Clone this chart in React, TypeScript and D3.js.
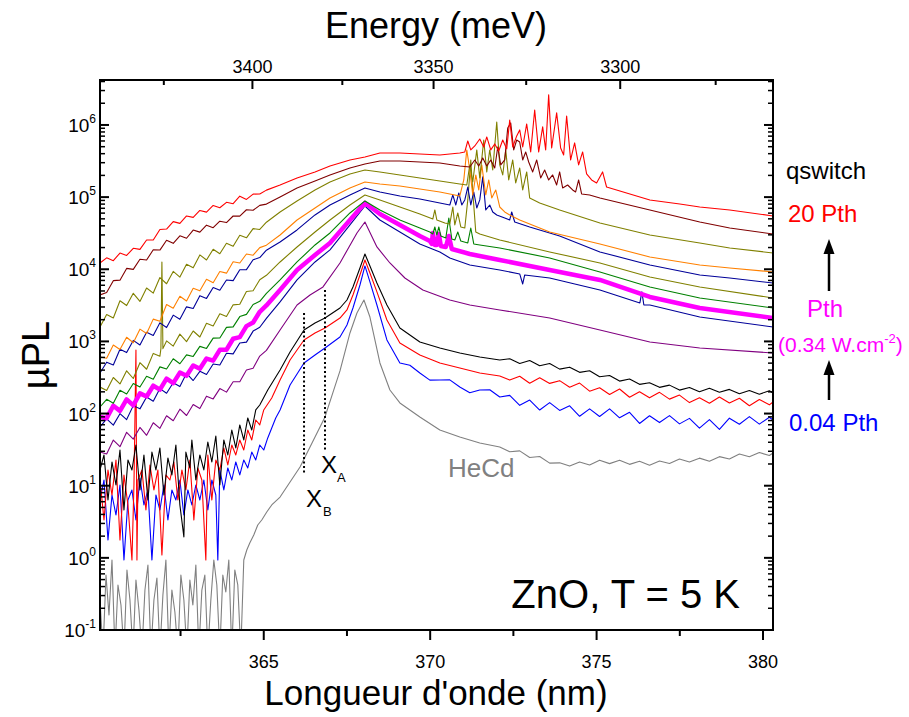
import React from 'react';
import * as d3 from 'd3';

type Pt = [number, number];

// Each point: [wavelength (nm), log10(µPL)]
const hecd: Pt[] = [
  [360.08,-0.584],[360.17,-1.3],[360.26,-0.238],[360.35,-0.792],[360.44,-0.03],[360.53,-1.3],[360.62,-0.376],[360.71,-0.654],[360.8,-1.3],[360.89,-0.168],[360.98,-0.584],[361.07,-1.3],[361.16,-0.307],[361.25,-0.723],[361.34,-1.3],[361.43,-0.446],[361.52,-0.099],[361.61,-1.3],[361.7,-0.584],[361.79,-0.279],[361.88,-1.3],[361.97,-0.515],[362.06,-0.03],[362.15,-1.3],[362.24,-0.446],[362.33,-0.751],[362.42,-1.3],[362.51,-0.238],[362.6,-0.584],[362.69,-1.3],[362.78,-0.307],[362.87,-0.654],[362.96,-0.099],[363.05,-1.3],[363.14,-0.446],[363.23,-0.238],[363.32,-1.3],[363.41,-0.584],[363.5,-0.03],[363.59,-0.376],[363.68,-1.3],[363.77,-0.238],[363.86,-0.473],[363.95,-0.03],[364.04,-1.3],[364.13,-0.168],[364.22,-0.376],[364.31,-1.3],[364.4,-0.03],[364.49,0.109],[364.58,0.206],[364.7,0.317],[364.82,0.455],[364.94,0.525],[365.09,0.636],[365.24,0.733],[365.49,0.843],[365.79,1.051],[366.09,1.259],[366.54,1.675],[366.84,1.953],[367.29,2.591],[367.59,3.117],[367.8,3.394],[368.01,3.574],[368.19,3.338],[368.49,2.701],[368.79,2.327],[369.09,2.147],[369.69,1.953],[370.29,1.772],[370.89,1.675],[371.49,1.592],
  [372.09,1.537],[372.39,1.47],[372.69,1.483],[372.99,1.391],[373.29,1.405],[373.59,1.313],[373.89,1.317],[374.19,1.272],[374.49,1.328],[374.79,1.288],[375.09,1.354],[375.39,1.306],[375.69,1.354],[375.99,1.296],[376.29,1.338],[376.59,1.285],[376.89,1.343],[377.19,1.307],[377.49,1.37],[377.79,1.328],[378.09,1.382],[378.39,1.34],[378.69,1.403],[378.99,1.371],[379.29,1.439],[379.59,1.402],[379.89,1.46],[380.19,1.418],[380.3,1.453]
];

const p004: Pt[] = [
  [360.08,0.802],[360.2,1.079],[360.32,0.248],[360.44,0.871],[360.56,0.594],[360.68,1.01],[360.8,-0.03],[360.92,0.802],[361.04,0.941],[361.16,0.525],[361.28,1.107],[361.4,0.733],[361.52,0.941],[361.64,-0.03],[361.76,0.871],[361.88,0.663],[362.0,1.01],[362.12,0.525],[362.24,0.941],[362.36,0.802],[362.48,1.079],[362.6,0.594],[362.72,0.941],[362.84,0.733],[362.96,1.01],[363.08,0.802],[363.2,1.079],[363.32,0.663],[363.44,1.079],[363.56,0.871],[363.62,-0.03],[363.68,1.218],[363.8,0.941],[363.92,1.246],[364.04,1.079],[364.16,1.329],[364.28,1.149],[364.4,1.357],[364.52,1.246],[364.64,1.467],[364.76,1.357],[364.88,1.564],[365.0,1.495],[365.12,1.662],[365.24,1.8],[365.36,1.939],[365.49,2.05],[365.79,2.396],[366.21,2.701],[366.54,2.812],[366.84,2.909],[367.29,3.061],[367.5,3.228],[367.68,3.463],[367.89,3.782],[368.04,4.046],[368.19,3.824],[368.4,3.505],[368.7,3.02],
  [369.09,2.701],[369.39,2.67],[369.69,2.562],[369.99,2.463],[370.29,2.465],[370.59,2.467],[370.89,2.368],[371.19,2.288],[371.49,2.327],[371.79,2.329],
  [372.09,2.23],[372.39,2.252],[372.69,2.114],[372.99,2.187],[373.29,2.049],[373.59,2.151],[373.89,2.044],[374.19,2.108],[374.49,1.962],[374.79,2.065],[375.09,1.959],[375.39,2.065],[375.69,1.941],[375.99,2.017],[376.29,1.863],[376.59,1.969],[376.89,1.875],[377.19,1.971],[377.49,1.857],[377.79,1.933],[378.09,1.799],[378.39,1.915],[378.69,1.78],[378.99,1.936],[379.29,1.852],[379.59,1.957],[379.89,1.853],[380.19,1.949],[380.3,1.911]
];

const redLow: Pt[] = [
  [360.08,1.079],[360.2,0.525],[360.32,1.218],[360.44,0.871],[360.56,1.357],[360.68,0.248],[360.8,1.149],[360.92,0.733],[361.04,-0.03],[361.1,1.01],[361.16,2.881],[361.19,-0.03],[361.22,1.079],[361.34,1.218],[361.46,0.663],[361.58,1.287],[361.7,0.941],[361.82,1.218],[361.94,0.04],[362.06,1.149],[362.18,1.079],[362.3,1.329],[362.42,0.802],[362.54,1.218],[362.66,0.941],[362.78,1.357],[362.9,0.525],[363.02,1.246],[363.14,1.079],[363.26,-0.03],[363.32,1.426],[363.44,0.802],[363.56,1.357],[363.68,1.218],[363.8,1.523],[363.92,1.287],[364.04,1.564],[364.16,1.426],[364.28,1.634],[364.4,1.495],[364.52,1.772],[364.64,1.634],[364.76,1.911],[364.88,1.842],[365.0,2.05],[365.24,2.216],[365.49,2.465],[365.79,2.743],[366.21,3.02],[366.54,3.117],[366.84,3.186],[367.29,3.324],[367.5,3.436],[367.68,3.644],[367.89,3.921],[368.04,4.129],[368.19,3.949],[368.4,3.686],[368.7,3.297],[369.09,2.978],[369.69,2.812],[370.29,2.701],[370.89,2.632],[371.49,2.562],
  [372.09,2.521],[372.39,2.464],[372.69,2.518],[372.99,2.421],[373.29,2.495],[373.59,2.418],[373.89,2.456],[374.19,2.364],[374.49,2.422],[374.79,2.31],[375.09,2.358],[375.39,2.264],[375.69,2.34],[375.99,2.226],[376.29,2.302],[376.59,2.218],[376.89,2.294],[377.19,2.2],[377.49,2.256],[377.79,2.152],[378.09,2.218],[378.39,2.144],[378.69,2.23],[378.99,2.147],[379.29,2.213],[379.59,2.109],[379.89,2.195],[380.19,2.121],[380.3,2.16]
];

const blackLow: Pt[] = [
  [360.08,1.218],[360.2,1.426],[360.32,0.802],[360.44,1.329],[360.56,1.01],[360.68,1.495],[360.8,0.663],[360.92,1.357],[361.04,1.218],[361.16,1.564],[361.28,0.941],[361.4,1.426],[361.52,0.802],[361.64,1.467],[361.76,1.218],[361.88,1.523],[362.0,0.871],[362.12,1.384],[362.24,1.149],[362.36,1.564],[362.48,0.733],[362.6,0.29],[362.66,1.467],[362.78,1.246],[362.84,1.634],[362.96,1.079],[363.08,1.426],[363.2,1.218],[363.32,1.606],[363.44,1.329],[363.56,1.689],[363.68,1.01],[363.8,1.634],[363.92,1.426],[364.04,1.772],[364.16,1.523],[364.28,1.842],[364.4,1.634],[364.52,1.939],[364.64,1.772],[364.76,2.05],[364.88,2.119],[365.12,2.327],[365.49,2.604],[365.79,2.853],[366.21,3.158],[366.54,3.255],[366.84,3.324],[367.29,3.463],[367.5,3.574],[367.68,3.755],[367.89,4.018],[368.04,4.212],[368.19,4.046],[368.4,3.81],[368.7,3.505],[369.09,3.186],[369.69,2.992],[370.29,2.909],[370.89,2.84],[371.49,2.784],
  [372.09,2.743],[372.39,2.759],[372.69,2.695],[372.99,2.736],[373.29,2.662],[373.59,2.693],[373.89,2.616],[374.19,2.643],[374.49,2.571],[374.79,2.593],[375.09,2.511],[375.39,2.528],[375.69,2.45],[375.99,2.478],[376.29,2.405],[376.59,2.427],[376.89,2.363],[377.19,2.394],[377.49,2.325],[377.79,2.361],[378.09,2.302],[378.39,2.351],[378.69,2.296],[378.99,2.335],[379.29,2.274],[379.59,2.319],[379.89,2.268],[380.19,2.317],[380.3,2.285]
];

const purple: Pt[] = [
  [360.08,1.467],[360.28,1.44],[360.48,1.633],[360.68,1.541],[360.88,1.74],[361.08,1.646],[361.28,1.808],[361.48,1.699],[361.68,1.872],[361.88,1.795],[362.08,1.969],[362.28,1.9],[362.48,2.061],[362.68,1.973],[362.88,2.126],[363.08,2.069],[363.28,2.241],[363.48,2.203],[363.68,2.346],[363.88,2.297],[364.08,2.44],[364.28,2.442],[364.48,2.603],[364.68,2.628],[364.88,2.797],[365.08,2.875],
  [365.49,3.158],[366.0,3.505],[366.39,3.644],[366.78,3.755],[367.29,4.087],[367.8,4.503],[368.04,4.655],[368.4,4.309],[368.79,4.087],[369.24,3.879],[369.78,3.713],[370.59,3.574],[371.19,3.505],[372.09,3.436],[373.59,3.324],[375.1,3.158],[376.6,2.992],[378.1,2.909],[380.3,2.84]
];

const navyLow: Pt[] = [
  [360.08,1.814],[360.28,1.927],[360.48,1.84],[360.68,1.998],[360.88,1.917],[361.08,2.11],[361.28,2.065],[361.48,2.23],[361.68,2.171],[361.88,2.346],[362.08,2.281],[362.28,2.428],[362.48,2.374],[362.68,2.558],[362.88,2.458],[363.08,2.585],[363.28,2.541],[363.48,2.686],[363.68,2.674],[363.88,2.835],[364.08,2.827],[364.28,2.979],[364.48,2.99],[364.68,3.143],[364.88,3.196],[365.08,3.319],
  [365.49,3.547],[366.0,3.852],[366.54,4.101],[366.99,4.268],[367.59,4.614],[368.04,4.877],[368.49,4.683],[369.09,4.517],[369.69,4.351],[370.29,4.24],[370.59,4.157],[371.19,4.06],[372.09,3.99],[372.69,3.935],[372.78,3.796],[372.84,3.921],[373.59,3.879],[375.1,3.713],[376.3,3.533],[376.36,3.686],[376.42,3.505],[376.6,3.505],[378.1,3.338],[380.3,3.2]
];

const pth: Pt[] = [
  [360.08,1.952],[360.28,1.936],[360.48,2.109],[360.68,2.037],[360.88,2.196],[361.08,2.113],[361.28,2.28],[361.48,2.236],[361.68,2.386],[361.88,2.331],[362.08,2.485],[362.28,2.422],[362.48,2.568],[362.68,2.523],[362.88,2.666],[363.08,2.62],[363.28,2.762],[363.48,2.734],[363.68,2.883],[363.88,2.884],[364.08,3.037],[364.28,3.059],[364.48,3.212],[364.68,3.262],[364.88,3.411],[365.08,3.499],
  [365.49,3.713],[366.0,3.99],[366.54,4.198],[366.99,4.365],[367.59,4.683],[368.04,4.919],[368.49,4.766],[369.09,4.614],[369.69,4.461],[369.99,4.392],[370.05,4.351],[370.08,4.503],[370.14,4.337],[370.2,4.337],[370.26,4.489],[370.32,4.323],[370.47,4.309],[370.56,4.461],[370.65,4.281],[371.19,4.212],[372.09,4.129],[373.59,3.99],[375.1,3.852],[376.6,3.616],[378.1,3.463],[380.3,3.324]
];

const green: Pt[] = [
  [360.08,2.091],[360.28,2.197],[360.48,2.142],[360.68,2.323],[360.88,2.272],[361.08,2.417],[361.28,2.367],[361.48,2.517],[361.68,2.477],[361.88,2.647],[362.08,2.617],[362.28,2.759],[362.48,2.69],[362.68,2.813],[362.88,2.792],[363.08,2.931],[363.28,2.903],[363.48,3.045],[363.68,3.048],[363.88,3.195],[364.08,3.202],[364.28,3.344],[364.48,3.375],[364.68,3.512],[364.88,3.555],[365.08,3.667],
  [365.49,3.852],[366.0,4.101],[366.54,4.337],[366.99,4.503],[367.59,4.78],[368.04,4.947],[368.49,4.822],[369.09,4.683],[369.69,4.572],[369.99,4.517],[370.08,4.489],[370.14,4.586],[370.2,4.475],[370.26,4.586],[370.32,4.461],[370.47,4.434],[370.56,4.711],[370.65,4.42],[370.74,4.406],[370.83,4.517],[370.92,4.392],[371.13,4.365],[371.22,4.572],[371.31,4.351],[371.49,4.337],[372.09,4.295],[373.59,4.157],[375.1,3.963],[376.6,3.755],[378.1,3.602],[380.3,3.463]
];

const oliveLow: Pt[] = [
  [360.08,2.368],[360.28,2.319],[360.48,2.5],[360.68,2.411],[360.88,2.592],[361.08,2.486],[361.28,2.705],[361.48,2.614],[361.68,2.834],[361.88,2.795],[361.91,2.9],[361.94,4.101],[361.97,2.9],[362.08,3.007],[362.28,2.935],[362.48,3.101],[362.68,2.997],[362.88,3.144],[363.08,3.061],[363.28,3.252],[363.48,3.214],[363.68,3.383],[363.88,3.345],[364.08,3.507],[364.28,3.515],[364.48,3.692],[364.68,3.702],[364.88,3.854],[365.08,3.916],
  [365.49,4.101],[366.0,4.309],[366.54,4.517],[366.99,4.683],[367.59,4.891],[368.04,5.03],[368.49,4.961],[369.09,4.863],[369.69,4.766],[370.08,4.697],[370.14,4.822],[370.2,4.683],[370.44,4.642],[370.59,4.628],[370.68,4.863],[370.74,4.614],[370.83,4.78],[370.92,4.586],[371.04,4.572],[371.13,4.961],[371.22,5.515],[371.28,5.071],[371.37,4.517],[371.49,4.489],[372.09,4.406],[373.59,4.24],[375.1,4.087],[376.6,3.893],[378.1,3.755],[380.3,3.602]
];

const navyHigh: Pt[] = [
  [360.08,2.562],[360.28,2.712],[360.48,2.673],[360.68,2.892],[360.88,2.845],[361.08,3.014],[361.28,2.95],[361.48,3.126],[361.68,3.082],[361.88,3.257],[362.08,3.192],[362.28,3.364],[362.48,3.306],[362.68,3.479],[362.88,3.457],[363.08,3.634],[363.28,3.596],[363.48,3.748],[363.68,3.709],[363.88,3.851],[364.08,3.843],[364.28,3.994],[364.48,3.995],[364.68,4.131],[364.88,4.162],[365.08,4.264],
  [365.49,4.378],[366.0,4.545],[366.54,4.753],[366.99,4.891],[367.59,5.03],[368.04,5.127],[368.49,5.071],[369.09,5.016],[369.69,4.974],[370.29,4.919],[370.59,4.891],[370.68,5.03],[370.77,4.891],[370.86,5.057],[370.95,4.891],[371.04,4.961],[371.13,5.14],[371.22,4.891],[371.31,5.071],[371.4,4.849],[371.49,4.961],[371.58,5.28],[371.67,4.822],[371.79,4.891],[371.88,4.794],[372.0,4.753],[372.24,4.711],[372.39,4.683],[372.45,4.794],[372.54,4.655],[372.99,4.586],[373.89,4.461],[375.1,4.24],[376.6,4.06],[378.1,3.921],[379.0,3.879],[380.3,3.81]
];

const orange: Pt[] = [
  [360.08,2.784],[360.28,2.767],[360.48,2.95],[360.68,2.888],[360.88,3.057],[361.08,2.981],[361.28,3.17],[361.48,3.109],[361.68,3.309],[361.88,3.28],[362.08,3.512],[362.28,3.459],[362.48,3.626],[362.68,3.56],[362.88,3.736],[363.08,3.701],[363.28,3.862],[363.48,3.814],[363.68,3.969],[363.88,3.946],[364.08,4.103],[364.28,4.087],[364.48,4.211],[364.68,4.195],[364.88,4.3],[365.08,4.334],
  [365.49,4.475],[366.0,4.683],[366.54,4.849],[366.99,4.988],[367.59,5.127],[368.04,5.21],[368.49,5.182],[369.09,5.155],[369.69,5.113],[370.29,5.071],[370.89,5.016],[371.01,5.238],[371.1,5.654],[371.19,5.376],[371.28,5.03],[371.37,5.307],[371.46,5.099],[371.55,5.446],[371.67,5.03],[371.76,5.238],[371.85,4.988],[371.97,5.099],[372.09,4.863],[372.24,4.794],[372.39,4.753],[372.69,4.683],[373.59,4.517],[375.1,4.351],[376.6,4.17],[378.1,4.06],[379.0,4.018],[380.3,3.963]
];

const oliveHigh: Pt[] = [
  [360.08,3.2],[360.28,3.372],[360.48,3.325],[360.68,3.563],[360.88,3.497],[361.08,3.667],[361.28,3.554],[361.48,3.74],[361.68,3.67],[361.88,3.885],[362.08,3.799],[362.28,3.97],[362.48,3.892],[362.68,4.07],[362.88,4.02],[363.08,4.199],[363.28,4.128],[363.48,4.278],[363.68,4.215],[363.88,4.361],[364.08,4.318],[364.28,4.472],[364.48,4.436],[364.68,4.563],[364.88,4.552],[365.08,4.652],
  [365.49,4.794],[366.0,4.947],[366.54,5.099],[366.99,5.21],[367.59,5.321],[368.04,5.376],[368.49,5.349],[369.09,5.307],[369.69,5.266],[370.29,5.224],[370.89,5.182],[371.1,5.168],[371.19,5.446],[371.28,5.21],[371.4,5.654],[371.49,5.266],[371.61,5.792],[371.7,5.349],[371.79,5.654],[371.88,5.376],[372.0,6.042],[372.09,5.446],[372.18,5.307],[372.27,5.654],[372.36,5.238],[372.48,5.515],[372.57,5.196],[372.69,5.404],[372.78,5.099],[372.9,5.349],[372.99,4.988],[373.29,4.919],[373.89,4.822],[375.1,4.642],[376.6,4.475],[378.1,4.365],[379.0,4.295],[380.3,4.226]
];

const darkRed: Pt[] = [
  [360.08,3.644],[360.28,3.678],[360.48,3.842],[360.68,3.849],[360.88,4.012],[361.08,3.998],[361.28,4.138],[361.48,4.128],[361.68,4.271],[361.88,4.266],[362.08,4.402],[362.28,4.359],[362.48,4.464],[362.68,4.43],[362.88,4.543],[363.08,4.515],[363.28,4.611],[363.48,4.576],[363.68,4.666],[363.88,4.647],[364.08,4.738],[364.28,4.737],[364.48,4.825],[364.68,4.818],[364.88,4.886],[365.08,4.903],
  [365.49,5.002],[366.0,5.127],[366.54,5.224],[366.99,5.307],[367.59,5.404],[368.04,5.46],[368.49,5.501],[369.09,5.501],[369.69,5.487],[370.29,5.473],[370.89,5.432],[371.19,5.418],[371.34,5.515],[371.46,5.432],[371.58,5.543],[371.7,5.432],[371.82,5.515],[371.94,5.404],[372.03,5.695],[372.12,5.446],[372.24,5.515],[372.33,5.959],[372.42,6.028],[372.51,5.654],[372.6,5.792],[372.69,5.764],[372.78,5.515],[372.87,5.626],[372.96,5.487],[373.08,5.349],[373.2,5.515],[373.32,5.266],[373.44,5.376],[373.56,5.238],[373.68,5.307],[373.8,5.168],[373.89,5.349],[373.98,5.127],[374.13,5.168],[374.28,5.099],[374.37,5.071],[374.46,5.238],[374.55,5.044],[374.79,5.03],[375.1,4.988],[376.6,4.822],[378.1,4.655],[379.0,4.572],[380.3,4.489]
];

const p20: Pt[] = [
  [360.08,4.087],[360.28,4.158],[360.48,4.119],[360.68,4.225],[360.88,4.191],[361.08,4.291],[361.28,4.276],[361.48,4.406],[361.68,4.406],[361.88,4.552],[362.08,4.557],[362.28,4.66],[362.48,4.636],[362.68,4.739],[362.88,4.719],[363.08,4.815],[363.28,4.792],[363.48,4.884],[363.68,4.852],[363.88,4.928],[364.08,4.909],[364.28,5.013],[364.48,4.968],[364.68,5.041],[364.88,5.044],[365.08,5.097],
  [365.49,5.168],[366.0,5.266],[366.54,5.349],[366.99,5.432],[367.59,5.515],[368.04,5.557],[368.49,5.612],[369.09,5.612],[369.69,5.598],[370.29,5.584],[370.89,5.612],[371.04,5.626],[371.13,5.778],[371.22,5.654],[371.34,5.709],[371.49,5.806],[371.61,5.695],[371.7,5.834],[371.82,5.654],[371.94,5.737],[372.06,5.64],[372.18,5.792],[372.3,5.667],[372.39,6.069],[372.48,5.695],[372.6,5.848],[372.69,5.931],[372.78,5.695],[372.9,6.014],[373.02,5.626],[373.14,6.208],[373.26,5.626],[373.38,5.973],[373.47,5.654],[373.56,6.417],[373.65,5.681],[373.8,6.167],[373.92,5.681],[374.01,5.584],[374.1,6.125],[374.22,5.515],[374.34,5.751],[374.46,5.446],[374.58,5.626],[374.7,5.321],[374.85,5.238],[375.0,5.196],[375.18,5.349],[375.3,5.14],[375.7,5.085],[376.6,4.961],[377.5,4.905],[378.1,4.863],[379.0,4.822],[380.3,4.739]
];

const seriesNames = ['HeCd', '0.04 Pth', 'red', 'black', 'purple', 'navyLow', 'Pth', 'green', 'oliveLow', 'navyHigh', 'orange', 'oliveHigh', 'darkRed', '20 Pth'];
const seriesData: Pt[][] = [hecd, p004, redLow, blackLow, purple, navyLow, pth, green, oliveLow, navyHigh, orange, oliveHigh, darkRed, p20];
const seriesColors = ['#808080', '#0000FF', '#FF0000', '#000000', '#800080', '#000099', '#FF00FF', '#008000', '#808000', '#000099', '#FF8000', '#808000', '#800000', '#FF0000'];
const seriesWidths = [1.1, 1.1, 1.1, 1.1, 1.1, 1.1, 4.5, 1.1, 1.1, 1.1, 1.1, 1.1, 1.1, 1.1];

const xTicksMajor = [365, 370, 375, 380];
const xTicksMinor = [362.5, 367.5, 372.5, 377.5];
const energyMajor = [3400, 3350, 3300];
const energyMinor = [3425, 3375, 3325, 3275];
const yDecades = [-1, 0, 1, 2, 3, 4, 5, 6];
const xaPos = 366.84;
const xbPos = 366.21;

const FONT = "'Liberation Sans', Arial, Helvetica, sans-serif";

export default function App() {
  const W = 909, H = 717;
  const L = 100, R = 773, T = 80, B = 630;
  const x = d3.scaleLinear().domain([360.08, 380.3]).range([L, R]);
  const y = d3.scaleLog().domain([0.1, 4.2e6]).range([B, T]);
  const line = d3.line<Pt>().x(d => x(d[0])).y(d => y(Math.pow(10, d[1])));
  const hc = 1239841.98;
  const ex = (e: number) => x(hc / e);

  const yMinor: number[] = [];
  yDecades.forEach(dec => {
    for (let k = 2; k <= 9; k++) {
      const v = k * Math.pow(10, dec);
      if (v <= 4.2e6) yMinor.push(v);
    }
  });

  return (
    <svg width={W} height={H} style={{ position: 'absolute', left: 0, top: 0, background: '#fff' }} fontFamily={FONT}>
      <defs>
        <clipPath id="plotclip">
          <rect x={L} y={T} width={R - L} height={B - T} />
        </clipPath>
      </defs>
      <rect x={0} y={0} width={W} height={H} fill="#fff" />
      <g clipPath="url(#plotclip)">
        {seriesData.map((d, i) => (
          <path key={seriesNames[i]} d={line(d) || ''} fill="none" stroke={seriesColors[i]} strokeWidth={seriesWidths[i]} strokeLinejoin="round" />
        ))}
        <line x1={x(xbPos)} x2={x(xbPos)} y1={y(Math.pow(10, 3.394))} y2={y(Math.pow(10, 1.176))} stroke="#000" strokeWidth={2} strokeDasharray="2,2.5" />
        <line x1={x(xaPos)} x2={x(xaPos)} y1={y(Math.pow(10, 3.713))} y2={y(Math.pow(10, 1.467))} stroke="#000" strokeWidth={2} strokeDasharray="2,2.5" />
      </g>

      <rect x={L} y={T} width={R - L} height={B - T} fill="none" stroke="#000" strokeWidth={2} />

      {xTicksMajor.map(t => (
        <g key={'xb' + t}>
          <line x1={x(t)} x2={x(t)} y1={B} y2={B + 10} stroke="#000" strokeWidth={2} />
          <text x={x(t)} y={668} fontSize={18} textAnchor="middle">{t}</text>
        </g>
      ))}
      {xTicksMinor.map(t => (
        <line key={'xbm' + t} x1={x(t)} x2={x(t)} y1={B} y2={B + 6} stroke="#000" strokeWidth={2} />
      ))}

      {energyMajor.map(e => (
        <g key={'e' + e}>
          <line x1={ex(e)} x2={ex(e)} y1={T} y2={T + 9} stroke="#000" strokeWidth={2} />
          <text x={ex(e)} y={73} fontSize={18} textAnchor="middle">{e}</text>
        </g>
      ))}
      {energyMinor.map(e => (
        <line key={'em' + e} x1={ex(e)} x2={ex(e)} y1={T} y2={T + 5} stroke="#000" strokeWidth={2} />
      ))}

      {yDecades.map(dec => {
        const yy = y(Math.pow(10, dec));
        return (
          <g key={'yd' + dec}>
            <line x1={L} x2={L + 9} y1={yy} y2={yy} stroke="#000" strokeWidth={2} />
            <line x1={R} x2={R - 9} y1={yy} y2={yy} stroke="#000" strokeWidth={2} />
            <text x={96} y={yy + 7} fontSize={19} textAnchor="end">
              10<tspan fontSize={12} dy={-9}>{dec}</tspan>
            </text>
          </g>
        );
      })}
      {yMinor.map(v => {
        const yy = y(v);
        return (
          <g key={'ym' + v}>
            <line x1={L} x2={L + 5} y1={yy} y2={yy} stroke="#000" strokeWidth={1.5} />
            <line x1={R} x2={R - 5} y1={yy} y2={yy} stroke="#000" strokeWidth={1.5} />
          </g>
        );
      })}

      <text x={436} y={38} fontSize={36} textAnchor="middle">Energy (meV)</text>
      <text x={436} y={705} fontSize={35} textAnchor="middle">Longueur d'onde (nm)</text>
      <text transform="translate(49,355) rotate(-90)" fontSize={38} textAnchor="middle">µPL</text>

      <text x={448} y={477} fontSize={26} fill="#808080">HeCd</text>
      <text x={740} y={608} fontSize={40} textAnchor="end">ZnO, T = 5 K</text>
      <text x={321} y={473} fontSize={24}>X</text>
      <text x={337} y={482} fontSize={13}>A</text>
      <text x={306} y={507} fontSize={24}>X</text>
      <text x={323} y={516} fontSize={13}>B</text>

      <text x={786} y={179} fontSize={24}>qswitch</text>
      <text x={788} y={222} fontSize={24} fill="#FF0000">20 Pth</text>
      <line x1={829} x2={829} y1={291} y2={252} stroke="#000" strokeWidth={2.5} />
      <polygon points="829,239 823.5,254 834.5,254" fill="#000" />
      <text x={807} y={317} fontSize={24} fill="#FF00FF">Pth</text>
      <text x={778} y={352} fontSize={21} fill="#FF00FF">
        (0.34 W.cm<tspan fontSize={13} dy={-9}>-2</tspan><tspan dy={9}>)</tspan>
      </text>
      <line x1={829} x2={829} y1={400} y2={373} stroke="#000" strokeWidth={2.5} />
      <polygon points="829,360 823.5,375 834.5,375" fill="#000" />
      <text x={789} y={431} fontSize={24} fill="#0000FF">0.04 Pth</text>
    </svg>
  );
}
